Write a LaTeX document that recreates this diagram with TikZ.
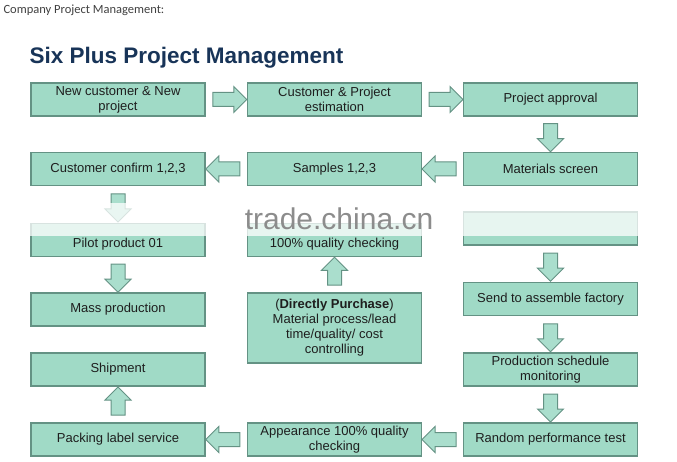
\documentclass[tikz,border=0pt]{standalone}
\usepackage{fontspec}
\setmainfont{Liberation Sans}
\newfontfamily\headfont{Carlito}
\usetikzlibrary{shapes.arrows,calc}

\definecolor{boxfill}{RGB}{160,218,198}
\definecolor{boxedge}{RGB}{100,146,132}
\definecolor{arrowfill}{RGB}{170,222,205}
\definecolor{titleblue}{RGB}{24,52,88}
\definecolor{boxtext}{RGB}{30,30,30}

\begin{document}
\begin{tikzpicture}[x=1pt, y=-1pt,
    stage/.style={draw=boxedge, line width=1.5pt, fill=boxfill, minimum width=174pt,
        minimum height=33pt, inner sep=1pt, align=center, text=boxtext,
        font=\fontsize{13}{15}\selectfont},
    flow/.style={single arrow, draw=boxedge, fill=arrowfill, line width=1pt,
        minimum height=34pt, single arrow head extend=6pt, inner sep=6.5pt},
    downflow/.style={flow, minimum height=28pt, shape border rotate=270},
    upflow/.style={flow, minimum height=28pt, shape border rotate=90},
    leftflow/.style={flow, shape border rotate=180}]
    \useasboundingbox (0,0) rectangle (677,462);

    \node[anchor=west, text=black!75, font=\headfont\fontsize{12.5}{14}\selectfont] (head) at (0,10) {Company Project Management:};
    \node[anchor=west, text=titleblue, font=\bfseries\fontsize{22.5}{26}\selectfont] (title) at (26,58) {Six Plus Project Management};

    % first row
    \node[stage] (newcust) at (118,99.5) {New customer \& New\\project};
    \node[stage] (estimate) at (334.5,99.5) {Customer \& Project\\estimation};
    \node[stage] (approval) at (550.5,99.5) {Project approval};

    % second row
    \node[stage] (confirm) at (118,169) {Customer confirm 1,2,3};
    \node[stage] (samples) at (334.5,169) {Samples 1,2,3};
    \node[stage] (screen) at (550.5,169) {Materials screen};

    % third row
    \node[stage] (pilot) at (118,240) {\raisebox{-3pt}[9pt][0pt]{Pilot product 01}};
    \node[stage] (quality) at (334.5,240) {\raisebox{-3pt}[9pt][0pt]{100\% quality checking}};
    \node[stage] (hidden) at (550.5,228.5) {};

    % lower rows
    \node[stage] (mass) at (118,309.5) {Mass production};
    \node[stage, minimum height=70pt] (purchase) at (334.5,328)
        {(\textbf{Directly Purchase})\\Material process/lead\\time/quality/ cost\\controlling};
    \node[stage] (assemble) at (550.5,299) {Send to assemble factory};
    \node[stage] (shipment) at (118,369.5) {Shipment};
    \node[stage] (schedule) at (550.5,369.5) {Production schedule\\monitoring};
    \node[stage] (packing) at (118,439.5) {Packing label service};
    \node[stage] (appearance) at (334.5,439.5) {Appearance 100\% quality\\checking};
    \node[stage] (random) at (550.5,439.5) {Random performance test};

    % block arrows
    \node[flow] (f1) at ($(newcust.east)!0.5!(estimate.west)$) {};
    \node[flow] (f2) at ($(estimate.east)!0.5!(approval.west)$) {};
    \node[downflow] (f3) at ($(approval.south)!0.5!(screen.north)$) {};
    \node[leftflow] (f4) at ($(screen.west)!0.5!(samples.east)$) {};
    \node[leftflow] (f5) at ($(samples.west)!0.5!(confirm.east)$) {};
    \node[downflow] (f6) at ($(confirm.south)!0.5!(pilot.north)$) {};
    \node[downflow] (f7) at ($(pilot.south)!0.5!(mass.north)$) {};
    \node[upflow] (f8) at ($(purchase.north)!0.5!(quality.south)$) {};
    \node[downflow] (f9) at ($(hidden.south)!0.5!(assemble.north)$) {};
    \node[downflow] (f10) at ($(assemble.south)!0.5!(schedule.north)$) {};
    \node[downflow] (f11) at ($(schedule.south)!0.5!(random.north)$) {};
    \node[leftflow] (f12) at ($(random.west)!0.5!(appearance.east)$) {};
    \node[leftflow] (f13) at ($(appearance.west)!0.5!(packing.east)$) {};
    \node[upflow] (f14) at ($(packing.north)!0.5!(shipment.south)$) {};

    % watermark band
    \fill[white, opacity=0.75] (20,203) rectangle (650,236);
    \node[text=black!45, font=\fontsize{30}{32}\selectfont] (mark) at (339,219) {trade.china.cn};
\end{tikzpicture}
\end{document}
